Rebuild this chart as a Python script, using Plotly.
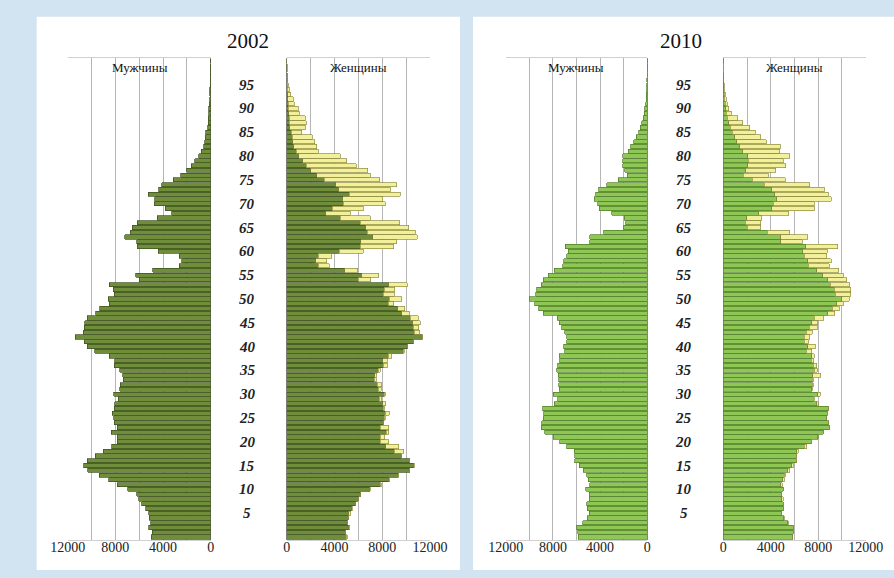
import plotly.graph_objects as go

# ---------------- data (persons, single-year ages 0..100) ----------------
ages = list(range(0, 101))

male_2002 = [5000, 4900, 5200, 5050, 5150, 5200, 5450, 5800, 6050, 6200,
             6950, 7850, 8550, 9350, 10300, 10650, 10350, 9700, 9000, 8300,
             7850, 7850, 8350, 7850, 8100, 8150, 8250, 8100, 8050, 7750,
             8150, 7650, 7600, 7350, 7380, 7650, 8080, 8040, 8500, 9750,
             10350, 10600, 11350, 10700, 10600, 10550, 10350, 9650, 9300, 8500,
             8600, 8080, 8170, 8530, 6000, 6270, 4870, 2630, 2430, 2630,
             4400, 6150, 6200, 7200, 6750, 6600, 6150, 4480, 3270, 3830,
             4730, 4700, 5250, 4350, 4100, 3130, 2500, 2000, 1650, 1350,
             1000, 780, 600, 500, 450, 400, 250, 220, 200, 180,
             150, 120, 100, 80, 60, 50, 40, 30, 20, 10, 10]

female_2002 = [5050, 4900, 5260, 5080, 5170, 5350, 5500, 5800, 6000, 6200,
               7000, 7930, 8630, 9370, 10320, 10660, 10300, 9600, 9800, 9370,
               8530, 8200, 8530, 8530, 8100, 8250, 8600, 8150, 8300, 7950,
               8250, 7900, 7950, 7500, 7550, 7830, 8420, 8420, 8810, 9830,
               10130, 10600, 11410, 11160, 11050, 11190, 11000, 10250, 9900, 8980,
               9650, 9000, 9050, 10080, 7050, 7690, 5950, 3580, 3360, 3780,
               6430, 8950, 9230, 10930, 10770, 10200, 9480, 7000, 5340, 6400,
               8250, 8060, 9500, 8670, 9200, 7800, 7000, 6800, 5820, 5030,
               4480, 2660, 2520, 2330, 2160, 1260, 1540, 1620, 1540, 1060,
               980, 640, 560, 330, 220, 140, 100, 70, 50, 30, 20]

male_2010 = [5850, 5900, 6000, 5450, 5080, 4920, 5080, 5140, 4920, 4920,
             5200, 4860, 5000, 5140, 5420, 5750, 6130, 6130, 6210, 6840,
             7400, 7970, 8670, 9000, 8950, 8800, 8780, 8870, 7880, 7600,
             7980, 7450, 7500, 7500, 7550, 7680, 7600, 7400, 7450, 7000,
             7100, 6840, 6840, 6980, 7250, 7450, 7650, 8800, 9200, 9550,
             10000, 9450, 9350, 9000, 8800, 8400, 7880, 7150, 7100, 6840,
             6700, 6950, 4860, 4860, 3700, 2000, 1840, 1970, 3000, 4070,
             4200, 4500, 4350, 4100, 3450, 2450, 1700, 1900, 2080, 2100,
             2080, 1620, 1400, 1150, 950, 740, 600, 460, 330, 240,
             200, 150, 100, 70, 50, 40, 30, 20, 10, 10, 0]

female_2010 = [5840, 5900, 5900, 5480, 5140, 4920, 5060, 5060, 5060, 4920,
               5060, 4970, 5140, 5200, 5620, 5900, 6180, 6180, 6320, 7020,
               7440, 8000, 8430, 8990, 8900, 8710, 8790, 8850, 8000, 7670,
               8150, 7500, 7560, 7580, 8210, 7910, 7890, 7620, 7650, 7440,
               7750, 7160, 7300, 7510, 7910, 7980, 8470, 9410, 9760, 10110,
               10600, 10750, 10750, 10670, 10390, 10110, 9720, 8920, 9090, 8710,
               8760, 9630, 6670, 7130, 5620, 3160, 3160, 3230, 5500, 7650,
               7650, 9100, 8850, 8500, 7300, 5220, 3790, 4420, 5270, 5060,
               5580, 4750, 4780, 3600, 3150, 2700, 2250, 1620, 1200, 660,
               450, 340, 240, 160, 100, 70, 50, 40, 30, 20, 10]

age_labels = list(range(5, 100, 5))
value_ticks = [0, 2000, 4000, 6000, 8000, 10000, 12000]
value_tick_text = ["0", "", "4000", "", "8000", "", "12000"]
sex_titles = ["Мужчины", "Женщины"]

# ---------------- styling ----------------
W, H = 894, 578
SERIF = "Liberation Serif, Times New Roman, serif"
BG = "#d2e3f1"

def px(x):
    return x / W

def py(y):
    return 1 - y / H

panels = [
    dict(year="2002", male=male_2002, female=female_2002,
         male_dom=(67.7, 210.7), fem_dom=(286.7, 430.0), mid=247.3,
         green="#6f8d3b", green_line="#3b4f1c",
         male_title_x=139.5, fem_title_x=358.3, title_x=247.8),
    dict(year="2010", male=male_2010, female=female_2010,
         male_dom=(505.7, 647.3), fem_dom=(723.3, 865.7), mid=683.5,
         green="#8fc757", green_line="#4f7a25",
         male_title_x=576.0, fem_title_x=794.0, title_x=680.5),
]
yellow, yellow_line = "#f2f09a", "#8f8a3c"

fig = go.Figure()
layout_axes = {}
annotations = []
shapes = []

# white cards
for x0, x1 in [(36.7, 460.0), (473.0, 894.0)]:
    shapes.append(dict(type="rect", xref="paper", yref="paper",
                       x0=px(x0), x1=px(x1), y0=py(570), y1=py(16.7),
                       fillcolor="white", line=dict(width=0), layer="below"))

def value_axis(dom, rng):
    return dict(
        domain=[px(dom[0]), px(dom[1])], range=rng, automargin=False,
        anchor="y", tickvals=value_ticks, ticktext=value_tick_text,
        showgrid=True, gridcolor="rgba(60,60,60,0.38)", gridwidth=1,
        zeroline=True, zerolinecolor="#8a8a8a", zerolinewidth=1,
        showline=True, mirror=True, linecolor="#d0d0d0", linewidth=1,
        layer="above traces",
        ticks="", ticklabelstandoff=-6,
        tickfont=dict(family=SERIF, size=14, color="#222"), fixedrange=True)

ax_i = 0
for p in panels:
    # male axis
    ax_i += 1
    mname = "x" if ax_i == 1 else f"x{ax_i}"
    fig.add_trace(go.Bar(y=ages, x=p["male"], orientation="h", xaxis=mname, yaxis="y",
                         marker=dict(color=p["green"], line=dict(color=p["green_line"], width=0.7)),
                         showlegend=False, hoverinfo="skip"))
    layout_axes["xaxis" if ax_i == 1 else f"xaxis{ax_i}"] = value_axis(p["male_dom"], [12000, 0])

    # female axis: part matching males (green) + female surplus (yellow)
    ax_i += 1
    fname = f"x{ax_i}"
    common = [min(m, f) for m, f in zip(p["male"], p["female"])]
    excess = [f - c for f, c in zip(p["female"], common)]
    fig.add_trace(go.Bar(y=ages, x=common, orientation="h", xaxis=fname, yaxis="y",
                         marker=dict(color=p["green"], line=dict(color=p["green_line"], width=0.7)),
                         showlegend=False, hoverinfo="skip"))
    fig.add_trace(go.Bar(y=ages, x=excess, orientation="h", xaxis=fname, yaxis="y",
                         marker=dict(color=yellow, line=dict(color=yellow_line, width=0.7)),
                         showlegend=False, hoverinfo="skip"))
    layout_axes[f"xaxis{ax_i}"] = value_axis(p["fem_dom"], [0, 12000])

    # age labels in the middle
    for a in age_labels:
        annotations.append(dict(xref="paper", yref="y", x=px(p["mid"]), y=a,
                                text=str(a), showarrow=False, xanchor="center", yanchor="middle",
                                font=dict(family=SERIF, size=15, color="#222", style="italic", weight="bold")))
    # titles
    annotations.append(dict(xref="paper", yref="paper", x=px(p["title_x"]), y=py(41),
                            text=p["year"], showarrow=False, xanchor="center", yanchor="middle",
                            font=dict(family=SERIF, size=21, color="#111")))
    annotations.append(dict(xref="paper", yref="paper", x=px(p["male_title_x"]), y=py(67.5),
                            text=sex_titles[0], showarrow=False, xanchor="center", yanchor="middle",
                            font=dict(family=SERIF, size=13, color="#111")))
    annotations.append(dict(xref="paper", yref="paper", x=px(p["fem_title_x"]), y=py(67.5),
                            text=sex_titles[1], showarrow=False, xanchor="center", yanchor="middle",
                            font=dict(family=SERIF, size=13, color="#111")))

fig.update_layout(
    width=W, height=H, margin=dict(l=0, r=0, t=0, b=0, pad=0), autosize=False,
    paper_bgcolor=BG, plot_bgcolor="rgba(0,0,0,0)",
    barmode="stack", bargap=0.12,
    yaxis=dict(domain=[py(540), py(58)], range=[-0.63, 100.6], visible=False,
               automargin=False, anchor="x", fixedrange=True),
    annotations=annotations, shapes=shapes, showlegend=False,
    **layout_axes,
)

fig.write_html(
    "out.html",
    config={"displayModeBar": False},
    post_script="document.body.style.margin='0';document.body.style.overflow='hidden';"
                "document.body.style.background='" + BG + "';",
)
